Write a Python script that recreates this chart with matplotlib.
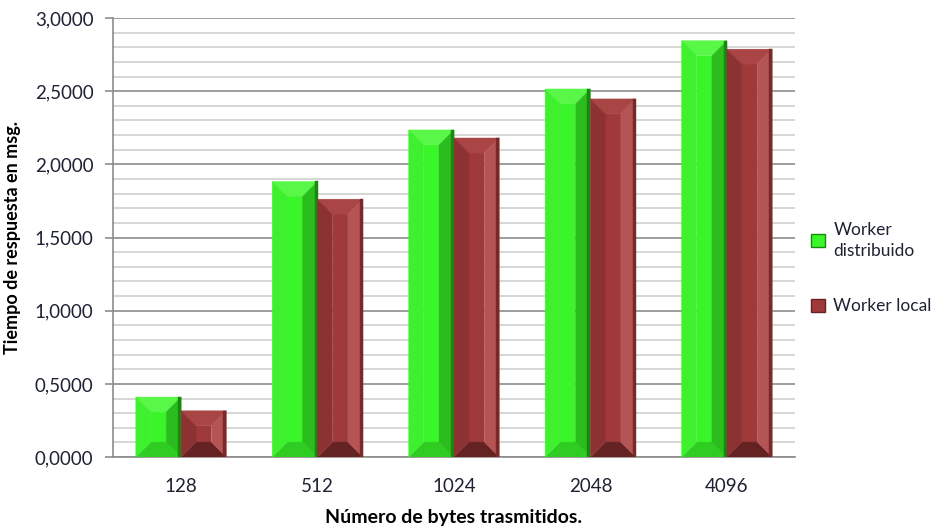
import matplotlib.pyplot as plt
import numpy as np
from matplotlib.patches import Polygon, Rectangle
from matplotlib.ticker import MultipleLocator, FuncFormatter

plt.rcParams["font.family"] = ["Lato", "DejaVu Sans"]

sizes = ["128", "512", "1024", "2048", "4096"]
distribuido = [0.410, 1.883, 2.235, 2.515, 2.845]
local = [0.316, 1.762, 2.180, 2.447, 2.787]
series_names = ["Worker\ndistribuido", "Worker local"]

# face, top, bottom, left, right, outer edge shades for the bevelled bars
GREEN = ["#3af52a", "#58f748", "#2fcc21", "#3ef02e", "#2bbd1e", "#178a0e"]
RED = ["#a03a3a", "#a94545", "#652222", "#8d3232", "#b55454", "#7a2828"]
TEXT = "#1e2233"


def bevel(ax, bar, shades, inset_px=15, edge_px=3):
    x0, y0 = bar.get_x(), bar.get_y()
    w, h = bar.get_width(), bar.get_height()
    (px0, py0), (px1, py1) = ax.transData.transform([(x0, y0), (x0 + w, y0 + h)])
    d = min(inset_px, 0.45 * (px1 - px0), 0.45 * (py1 - py0))
    bl, br, tr, tl = (px0, py0), (px1, py0), (px1, py1), (px0, py1)
    ibl, ibr = (px0 + d, py0 + d), (px1 - d, py0 + d)
    itr, itl = (px1 - d, py1 - d), (px0 + d, py1 - d)
    face, top, bottom, left, right, edge = shades
    pieces = [
        ([ibl, ibr, itr, itl], face),
        ([tl, tr, itr, itl], top),
        ([bl, br, ibr, ibl], bottom),
        ([bl, tl, itl, ibl], left),
        ([br, tr, itr, ibr], right),
        ([(px1 - edge_px, py0), br, tr, (px1 - edge_px, py1)], edge),
    ]
    inv = ax.transData.inverted()
    for pts, c in pieces:
        ax.add_patch(Polygon(inv.transform(pts), closed=True, facecolor=c,
                             edgecolor=c, linewidth=0.3, zorder=3))


fig = plt.figure(figsize=(9.41, 5.29), dpi=100)
ax = fig.add_axes([0.120, 0.136, 0.725, 0.830])

x = np.arange(len(sizes))
width = 0.332
ax.set_xlim(-0.5, len(sizes) - 0.5)
ax.set_ylim(0, 3.0)

bars_d = ax.bar(x - width / 2, distribuido, width, color="none", zorder=3)
bars_l = ax.bar(x + width / 2, local, width, color="none", zorder=3)
for b in bars_d:
    bevel(ax, b, GREEN)
for b in bars_l:
    bevel(ax, b, RED)

ax.yaxis.set_major_locator(MultipleLocator(0.5))
ax.yaxis.set_minor_locator(MultipleLocator(0.1))
ax.yaxis.set_major_formatter(FuncFormatter(lambda v, _: f"{v:.4f}".replace(".", ",")))
ax.grid(axis="y", which="major", color="#8c8c8c", linewidth=1.2, zorder=0)
ax.grid(axis="y", which="minor", color="#cfcfcf", linewidth=1.2, zorder=0)
ax.set_axisbelow(True)

ax.set_xticks(x)
ax.set_xticklabels(sizes)
ax.tick_params(axis="x", length=0, pad=15, labelsize=13.5, labelcolor=TEXT)
ax.tick_params(axis="y", which="major", length=6, width=1.2, color="#8c8c8c",
               labelsize=13.5, labelcolor=TEXT, pad=8)
ax.tick_params(axis="y", which="minor", length=0)

for side in ("top", "right"):
    ax.spines[side].set_visible(False)
for side in ("left", "bottom"):
    ax.spines[side].set_color("#8c8c8c")
    ax.spines[side].set_linewidth(1.2)

ax.set_ylabel("Tiempo de respuesta en msg.", fontsize=13, fontweight="bold",
              color="black", labelpad=10)
ax.set_xlabel("Número de bytes trasmitidos.", fontsize=14, fontweight="bold",
              color="black", labelpad=10)

handles = [Rectangle((0, 0), 1, 1, facecolor=GREEN[0], edgecolor=GREEN[5]),
           Rectangle((0, 0), 1, 1, facecolor=RED[0], edgecolor=RED[2])]
leg = ax.legend(handles, series_names, loc="center left", bbox_to_anchor=(1.0, 0.43),
                frameon=False, fontsize=12.5, labelspacing=2.3, handlelength=0.8,
                handleheight=0.8, handletextpad=0.5)
for t in leg.get_texts():
    t.set_color(TEXT)
    t.set_linespacing(1.35)

fig.savefig("out.png", dpi=100)
